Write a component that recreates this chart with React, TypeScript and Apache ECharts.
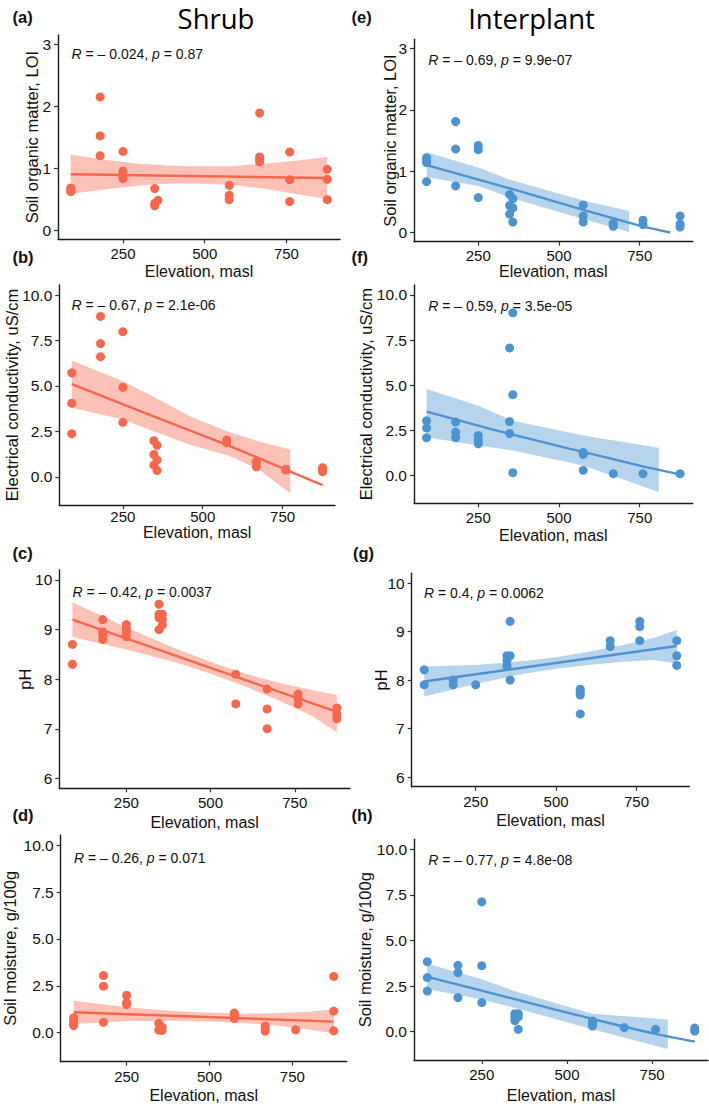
import React, { useEffect, useRef } from "react";
import * as echarts from "echarts";

// ---------- data ----------
const X_TICKS = [250, 500, 750];
const X_MIN = 51;
const X_MAX = 914;

const LOI_TICKS = [0, 1, 2, 3];
const EC_TICKS = [0, 2.5, 5, 7.5, 10];
const PH_TICKS = [6, 7, 8, 9, 10];
const SM_TICKS = [0, 2.5, 5, 7.5, 10];

// Shrub: [elevation, value]
const shrubLOI = [[90,0.68],[90,0.65],[90,0.62],[180,2.15],[180,1.52],[180,1.20],[250,1.27],[250,0.95],[250,0.90],[250,0.86],[250,0.83],[347,0.67],[347,0.43],[347,0.39],[357,0.48],[575,0.72],[575,0.56],[575,0.49],[668,1.89],[668,1.18],[668,1.15],[668,1.10],[760,1.26],[760,0.81],[760,0.46],[875,0.98],[875,0.82],[875,0.49]];
const shrubLOIFit = [[90,0.90],[875,0.84]];
const shrubLOIBand = [[90,0.585,1.22],[200,0.66,1.13],[300,0.72,1.07],[400,0.75,1.04],[480,0.75,1.03],[580,0.73,1.03],[680,0.67,1.07],[780,0.58,1.12],[875,0.50,1.18]];

const shrubEC = [[90,5.72],[90,4.05],[90,2.37],[180,8.82],[180,7.33],[180,6.61],[250,7.98],[250,4.92],[250,3.00],[347,1.99],[347,1.23],[347,0.64],[357,1.73],[357,0.92],[357,0.35],[575,2.03],[575,1.88],[668,0.83],[668,0.55],[760,0.42],[760,0.37],[875,0.50],[875,0.40],[875,0.28]];
const shrubECFit = [[90,5.10],[346,3.32],[575,1.76],[760,0.40],[875,-0.46]];
const shrubECBand = [[90,3.80,6.40],[250,3.15,5.25],[346,2.50,4.40],[463,1.75,3.30],[575,1.20,2.50],[671,0.46,1.97],[774,-0.90,1.50]];

const shrubPH = [[90,8.70],[90,8.30],[180,9.20],[180,8.95],[180,8.88],[180,8.80],[250,9.10],[250,9.02],[250,8.95],[250,8.86],[347,9.51],[347,9.31],[347,9.24],[347,9.00],[357,9.31],[357,9.20],[357,9.09],[575,8.10],[575,7.50],[668,7.80],[668,7.40],[668,7.00],[760,7.70],[760,7.60],[760,7.50],[875,7.42],[875,7.30],[875,7.20]];
const shrubPHFit = [[90,9.20],[875,7.34]];
const shrubPHBand = [[90,8.85,9.55],[250,8.60,9.04],[400,8.33,8.61],[500,8.11,8.35],[600,7.86,8.12],[700,7.58,7.93],[800,7.26,7.78],[875,6.93,7.68]];

const shrubSM = [[90,0.80],[90,0.60],[90,0.45],[90,0.38],[180,3.05],[180,2.48],[180,0.55],[250,2.00],[250,1.60],[250,1.50],[347,0.50],[347,0.14],[357,0.30],[357,0.12],[575,1.05],[575,0.90],[575,0.75],[668,0.35],[668,0.25],[668,0.08],[760,0.15],[875,3.00],[875,1.15],[875,0.10]];
const shrubSMFit = [[90,1.09],[875,0.59]];
const shrubSMBand = [[90,0.45,1.70],[250,0.62,1.36],[400,0.64,1.14],[500,0.60,1.06],[600,0.52,1.01],[700,0.38,1.03],[800,0.17,1.11],[875,-0.05,1.25]];

// Interplant
const interLOI = [[90,1.22],[90,1.18],[90,1.14],[90,0.83],[180,1.81],[180,1.36],[180,0.76],[250,1.42],[250,1.35],[250,0.57],[347,0.62],[347,0.44],[347,0.30],[357,0.55],[357,0.40],[357,0.17],[575,0.45],[575,0.27],[575,0.17],[668,0.15],[668,0.10],[760,0.20],[760,0.13],[875,0.27],[875,0.14],[875,0.09]];
const interLOIFit = [[90,1.10],[354,0.71],[575,0.37],[760,0.10],[844,0.0]];
const interLOIBand = [[90,0.90,1.31],[250,0.76,1.06],[354,0.56,0.85],[575,0.22,0.52],[717,0.01,0.35]];

const interEC = [[90,3.03],[90,2.63],[90,2.08],[180,2.95],[180,2.40],[180,2.08],[250,2.21],[250,1.97],[250,1.75],[347,7.06],[347,2.98],[347,2.32],[357,9.01],[357,4.47],[357,0.15],[575,1.27],[575,1.16],[575,0.28],[668,0.09],[760,0.09],[875,0.09]];
const interECFit = [[90,3.53],[350,2.28],[575,1.30],[760,0.50],[875,0.06]];
const interECBand = [[90,2.11,4.78],[250,1.65,3.86],[357,1.38,3.03],[575,0.55,2.21],[809,-0.92,1.53]];

const interPH = [[90,8.21],[90,7.90],[180,8.00],[180,7.90],[250,7.90],[347,8.50],[347,8.40],[347,8.29],[357,9.21],[357,8.50],[357,8.00],[575,7.81],[575,7.76],[575,7.69],[575,7.30],[668,8.81],[668,8.69],[760,9.21],[760,9.10],[760,8.81],[875,8.81],[875,8.50],[875,8.30]];
const interPHFit = [[90,7.97],[875,8.70]];
const interPHBand = [[90,7.66,8.28],[250,7.92,8.31],[400,8.13,8.39],[500,8.23,8.47],[600,8.31,8.58],[700,8.37,8.71],[800,8.41,8.86],[875,8.34,9.03]];

const interSM = [[90,3.84],[90,2.97],[90,2.23],[180,3.64],[180,3.24],[180,1.87],[250,7.12],[250,3.62],[250,1.60],[347,0.99],[347,0.81],[347,0.61],[357,0.99],[357,0.81],[357,0.13],[575,0.59],[575,0.45],[575,0.31],[668,0.23],[760,0.13],[875,0.20],[875,0.04]];
const interSMFit = [[90,3.01],[357,1.74],[575,0.70],[760,-0.12],[875,-0.54]];
const interSMBand = [[90,2.34,3.73],[250,1.77,2.88],[357,1.26,2.16],[575,0.13,0.99],[796,-0.95,0.67]];

const statR = ["– 0.024", "– 0.67", "– 0.42", "– 0.26", "– 0.69", "– 0.59", "0.4", "– 0.77"];
const statP = ["0.87", "2.1e-06", "0.0037", "0.071", "9.9e-07", "3.5e-05", "0.0062", "4.8e-08"];
const tags = ["(a)", "(b)", "(c)", "(d)", "(e)", "(f)", "(g)", "(h)"];
const yTitles = ["Soil organic matter, LOI", "Electrical conductivity, uS/cm", "pH", "Soil moisture, g/100g"];
const columnTitles = ["Shrub", "Interplant"];
const X_TITLE = "Elevation, masl";

// ---------- styling / layout ----------
const RED = "#F8674B";
const RED_FILL = "rgba(248,103,75,0.40)";
const BLUE = "#4C93D1";
const BLUE_FILL = "rgba(76,147,209,0.40)";
const FONT = "'Liberation Sans', Arial, sans-serif";
const TICK_FS = 15;
const TITLE_FS = 16;

type Panel = {
  pts: number[][]; fit: number[][]; band: number[][];
  color: string; fill: string;
  box: number[]; // left, top, right, bottom
  yr: number[]; yt: number[]; dec: number;
  yTitle: string; yTitleX: number; xTitleY: number; xLabMargin: number;
  statPos: number[]; tagPos: number[];
};

const EC_RANGE = [-1.55, 10.55];
const panels: Panel[] = [
  { pts: shrubLOI, fit: shrubLOIFit, band: shrubLOIBand, color: RED, fill: RED_FILL, box: [58, 35, 340, 239.3], yr: [-0.15, 3.15], yt: LOI_TICKS, dec: 0, yTitle: yTitles[0], yTitleX: 32, xTitleY: 271.5, xLabMargin: 8, statPos: [71.5, 54.3], tagPos: [12.5, 16.5] },
  { pts: shrubEC, fit: shrubECFit, band: shrubECBand, color: RED, fill: RED_FILL, box: [59.3, 285, 335, 505], yr: EC_RANGE, yt: EC_TICKS, dec: 1, yTitle: yTitles[1], yTitleX: 11.5, xTitleY: 532.5, xLabMargin: 5, statPos: [71.5, 305], tagPos: [12.5, 257] },
  { pts: shrubPH, fit: shrubPHFit, band: shrubPHBand, color: RED, fill: RED_FILL, box: [59.3, 570, 350, 788.3], yr: [5.8, 10.2], yt: PH_TICKS, dec: 0, yTitle: yTitles[2], yTitleX: 25, xTitleY: 822, xLabMargin: 8, statPos: [72.5, 591.7], tagPos: [12.5, 553] },
  { pts: shrubSM, fit: shrubSMFit, band: shrubSMBand, color: RED, fill: RED_FILL, box: [60.7, 835, 346.7, 1061.7], yr: EC_RANGE, yt: SM_TICKS, dec: 1, yTitle: yTitles[3], yTitleX: 9.5, xTitleY: 1095, xLabMargin: 8, statPos: [74, 858.3], tagPos: [12.5, 815] },
  { pts: interLOI, fit: interLOIFit, band: interLOIBand, color: BLUE, fill: BLUE_FILL, box: [414, 39.3, 692.7, 241.7], yr: [-0.15, 3.15], yt: LOI_TICKS, dec: 0, yTitle: yTitles[0], yTitleX: 390, xTitleY: 271.5, xLabMargin: 7, statPos: [428.3, 60], tagPos: [351.5, 16.5] },
  { pts: interEC, fit: interECFit, band: interECBand, color: BLUE, fill: BLUE_FILL, box: [414, 285, 692.7, 503.3], yr: EC_RANGE, yt: EC_TICKS, dec: 1, yTitle: yTitles[1], yTitleX: 366, xTitleY: 535.5, xLabMargin: 8, statPos: [428.3, 305.7], tagPos: [351.5, 257] },
  { pts: interPH, fit: interPHFit, band: interPHBand, color: BLUE, fill: BLUE_FILL, box: [411.7, 573.3, 689.3, 786.7], yr: [5.8, 10.2], yt: PH_TICKS, dec: 0, yTitle: yTitles[2], yTitleX: 381, xTitleY: 820.5, xLabMargin: 8, statPos: [424, 593.3], tagPos: [353, 553] },
  { pts: interSM, fit: interSMFit, band: interSMBand, color: BLUE, fill: BLUE_FILL, box: [414, 839.3, 708, 1060], yr: EC_RANGE, yt: SM_TICKS, dec: 1, yTitle: yTitles[3], yTitleX: 365, xTitleY: 1095, xLabMargin: 8, statPos: [428.3, 860], tagPos: [351.5, 815] },
];

function buildOption() {
  const grid: any[] = [];
  const xAxis: any[] = [];
  const yAxis: any[] = [];
  const series: any[] = [];
  const graphic: any[] = [];

  panels.forEach((p, i) => {
    const [l, t, r, b] = p.box;
    grid.push({ left: l, top: t, width: r - l, height: b - t, containLabel: false, outerBoundsMode: "none" });
    xAxis.push({
      type: "value", gridIndex: i, min: X_MIN, max: X_MAX,
      axisLine: { show: true, onZero: false, lineStyle: { color: "#1a1a1a", width: 1.4 } },
      axisTick: { show: true, length: 4, customValues: X_TICKS, lineStyle: { color: "#333", width: 1.2 } },
      axisLabel: { show: true, customValues: X_TICKS, margin: p.xLabMargin, fontSize: TICK_FS, lineHeight: 13, fontFamily: FONT, color: "#111", formatter: (v: number) => String(v) },
      splitLine: { show: false },
    });
    yAxis.push({
      type: "value", gridIndex: i, min: p.yr[0], max: p.yr[1],
      axisLine: { show: true, onZero: false, lineStyle: { color: "#1a1a1a", width: 1.4 } },
      axisTick: { show: true, length: 4, customValues: p.yt, lineStyle: { color: "#333", width: 1.2 } },
      axisLabel: { show: true, customValues: p.yt, margin: 7, fontSize: TICK_FS + 0.5, fontFamily: FONT, color: "#111", formatter: (v: number) => v.toFixed(p.dec) },
      splitLine: { show: false },
    });

    const band = p.band;
    const fill = p.fill;
    series.push({
      type: "custom", xAxisIndex: i, yAxisIndex: i, silent: true, z: 1, clip: false,
      data: band,
      encode: { x: 0, y: [1, 2] },
      renderItem: (params: any, api: any) => {
        if (params.dataIndex !== 0) return null;
        const pts: number[][] = [];
        for (let k = 0; k < band.length; k++) pts.push(api.coord([band[k][0], band[k][2]]));
        for (let k = band.length - 1; k >= 0; k--) pts.push(api.coord([band[k][0], band[k][1]]));
        return { type: "polygon", shape: { points: pts }, style: { fill, stroke: "none" } };
      },
    });
    series.push({
      type: "scatter", xAxisIndex: i, yAxisIndex: i, z: 2, data: p.pts,
      symbol: "circle", symbolSize: 9, itemStyle: { color: p.color, opacity: 1 },
    });
    series.push({
      type: "line", xAxisIndex: i, yAxisIndex: i, z: 3, data: p.fit,
      showSymbol: false, smooth: 0.3, lineStyle: { color: p.color, width: 2.4 },
    });

    // annotations
    graphic.push({
      type: "text", x: p.statPos[0], y: p.statPos[1], z: 0,
      style: {
        text: `{i|R} = ${statR[i]}, {i|p} = ${statP[i]}`,
        fontSize: 14, fontFamily: FONT, fill: "#111", verticalAlign: "middle", align: "left",
        rich: { i: { fontStyle: "italic", fontSize: 14, fontFamily: FONT, fill: "#111" } },
      },
    });
    graphic.push({
      type: "text", x: p.tagPos[0], y: p.tagPos[1],
      style: { text: tags[i], fontSize: 16.5, fontWeight: "bold", fontFamily: FONT, fill: "#111", verticalAlign: "middle", align: "left" },
    });
    graphic.push({
      type: "text", x: p.yTitleX, y: (t + b) / 2, rotation: Math.PI / 2,
      style: { text: p.yTitle, fontSize: TITLE_FS + 0.5, fontFamily: FONT, fill: "#111", verticalAlign: "middle", align: "center" },
    });
    graphic.push({
      type: "text", x: (l + r) / 2, y: p.xTitleY,
      style: { text: X_TITLE, fontSize: TITLE_FS, lineHeight: 13, fontFamily: FONT, fill: "#111", verticalAlign: "middle", align: "center" },
    });
  });

  graphic.push({
    type: "text", x: 216, y: 18,
    style: { text: columnTitles[0], fontSize: 27.5, lineHeight: 28, fontFamily: "'Open Sans', sans-serif", fill: "#000", verticalAlign: "middle", align: "center" },
  });
  graphic.push({
    type: "text", x: 531.5, y: 18,
    style: { text: columnTitles[1], fontSize: 27.5, lineHeight: 28, fontFamily: "'Open Sans', sans-serif", fill: "#000", verticalAlign: "middle", align: "center" },
  });

  return {
    animation: false,
    backgroundColor: "#ffffff",
    grid, xAxis, yAxis, series, graphic,
  };
}

export default function App() {
  const ref = useRef<HTMLDivElement>(null);
  useEffect(() => {
    if (!ref.current) return;
    const chart = echarts.init(ref.current, undefined, { renderer: "svg" });
    chart.setOption(buildOption() as any);
    return () => chart.dispose();
  }, []);
  return (
    <div
      ref={ref}
      style={{ position: "absolute", left: 0, top: 0, width: 709, height: 1104, background: "#fff" }}
    />
  );
}
